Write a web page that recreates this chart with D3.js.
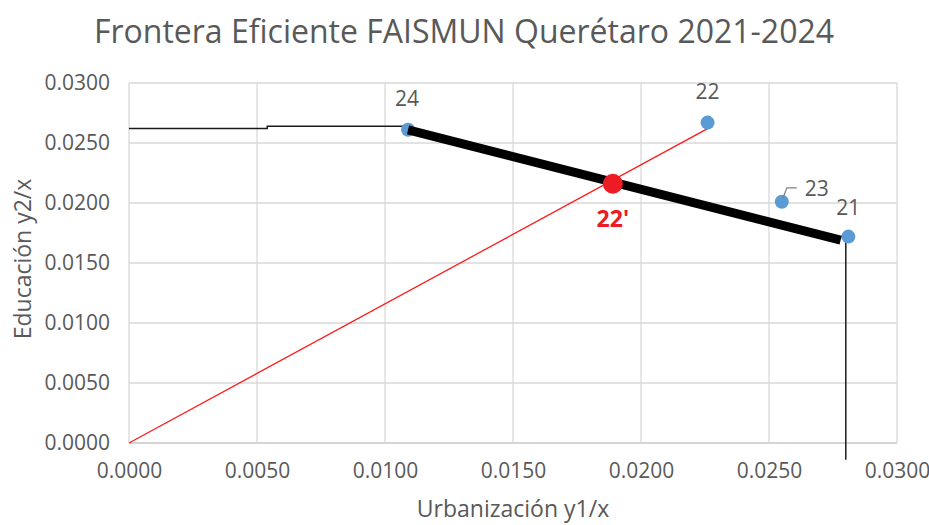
<!DOCTYPE html>
<html>
<head>
<meta charset="utf-8">
<script src="https://cdn.jsdelivr.net/npm/d3@7"></script>
<style>
  body { margin: 0; background: #fff; }
  text { font-family: "Open Sans", "Noto Sans", sans-serif; fill: #595959; }
</style>
</head>
<body>
<div id="chart"></div>
<script>
// puntos (años) del FAISMUN
var anios = ["21", "22", "23", "24"];
var urbanizacion = [0.0281, 0.0226, 0.0255, 0.0109];
var educacion = [0.0172, 0.0267, 0.0201, 0.0261];

// punto proyectado sobre la frontera
var proyLabel = "22'";
var proyX = [0.0189];
var proyY = [0.0216];

// frontera eficiente (24 -> 21)
var fronteraX = [0.0109, 0.0278];
var fronteraY = [0.0261, 0.0169];

// rayo desde el origen hacia 22
var rayoX = [0, 0.0226];
var rayoY = [0, 0.0262];

// líneas delgadas de cierre
var horizX = [0, 0.0054, 0.0054, 0.0108];
var horizY = [0.0262, 0.0262, 0.0264, 0.0264];
var vertX = [0.0280, 0.0280];
var vertY = [0.0168, -0.0014];

var ticks = [0, 0.005, 0.01, 0.015, 0.02, 0.025, 0.03];

var W = 929, H = 525;
var margin = {top: 83, right: 32, bottom: 82, left: 129},
    width = W - margin.left - margin.right,
    height = H - margin.top - margin.bottom;

var svg = d3.select("#chart").append("svg")
    .attr("width", W).attr("height", H);

var g = svg.append("g")
    .attr("transform", "translate(" + margin.left + "," + margin.top + ")");

var x = d3.scaleLinear().domain([0, 0.03]).range([0, width]);
var y = d3.scaleLinear().domain([0, 0.03]).range([height, 0]);
var fmt = d3.format(".4f");

// grid
g.append("g").selectAll("line").data(ticks).enter().append("line")
    .attr("x1", function(d) { return x(d); }).attr("x2", function(d) { return x(d); })
    .attr("y1", 0).attr("y2", height)
    .attr("stroke", "#d9d9d9").attr("stroke-width", 1.3);
g.append("g").selectAll("line").data(ticks).enter().append("line")
    .attr("y1", function(d) { return y(d); }).attr("y2", function(d) { return y(d); })
    .attr("x1", 0).attr("x2", width)
    .attr("stroke", "#d9d9d9").attr("stroke-width", 1.3);

// axes (labels only)
var xAxis = g.append("g")
    .attr("transform", "translate(0," + height + ")")
    .call(d3.axisBottom(x).tickValues(ticks).tickFormat(fmt).tickSize(0).tickPadding(20));
var yAxis = g.append("g")
    .call(d3.axisLeft(y).tickValues(ticks).tickFormat(fmt).tickSize(0).tickPadding(19));
[xAxis, yAxis].forEach(function(a) {
    a.select(".domain").remove();
    a.selectAll("text").attr("font-size", 21).attr("fill", "#595959")
        .style("font-family", "'Open Sans', sans-serif");
});
g.append("line").attr("x1", 0).attr("x2", width).attr("y1", height).attr("y2", height)
    .attr("stroke", "#d0d0d0").attr("stroke-width", 1.3);

var line = d3.line().x(function(d) { return x(d[0]); }).y(function(d) { return y(d[1]); });
function pares(xs, ys) { return xs.map(function(v, i) { return [v, ys[i]]; }); }

// thin black lines
g.append("path").datum(pares(horizX, horizY)).attr("d", line)
    .attr("fill", "none").attr("stroke", "#1a1a1a").attr("stroke-width", 1.5);
g.append("path").datum(pares(vertX, vertY)).attr("d", line)
    .attr("fill", "none").attr("stroke", "#1a1a1a").attr("stroke-width", 1.5);

// red ray
g.append("path").datum(pares(rayoX, rayoY)).attr("d", line)
    .attr("fill", "none").attr("stroke", "#ff1a1a").attr("stroke-width", 1.3);

// points
g.append("g").selectAll("circle").data(anios).enter().append("circle")
    .attr("cx", function(d, i) { return x(urbanizacion[i]); })
    .attr("cy", function(d, i) { return y(educacion[i]); })
    .attr("r", 7).attr("fill", "#5b9bd5");

// frontier
g.append("path").datum(pares(fronteraX, fronteraY)).attr("d", line)
    .attr("fill", "none").attr("stroke", "#000").attr("stroke-width", 9);

// projected point
g.append("circle").attr("cx", x(proyX[0])).attr("cy", y(proyY[0]))
    .attr("r", 10).attr("fill", "#ed1c24");

// point labels
var offsets = {"21": [0, -30], "22": [0, -32], "23": [35, -14], "24": [-1, -32]};
g.append("g").selectAll("text").data(anios).enter().append("text")
    .attr("x", function(d, i) { return x(urbanizacion[i]) + offsets[d][0]; })
    .attr("y", function(d, i) { return y(educacion[i]) + offsets[d][1]; })
    .attr("text-anchor", "middle").attr("dominant-baseline", "central")
    .attr("font-size", 21)
    .text(function(d) { return d; });

// leader line for 23
var i23 = anios.indexOf("23");
var lx = x(urbanizacion[i23]), ly = y(educacion[i23]);
g.append("path")
    .attr("d", "M" + (lx + 1) + "," + (ly - 3) + "L" + (lx + 5) + "," + (ly - 14) + "L" + (lx + 15) + "," + (ly - 14))
    .attr("fill", "none").attr("stroke", "#7f7f7f").attr("stroke-width", 1.2);

g.append("text").attr("x", x(proyX[0])).attr("y", y(proyY[0]) + 34)
    .attr("text-anchor", "middle").attr("dominant-baseline", "central")
    .attr("font-size", 23).attr("font-weight", "bold")
    .style("fill", "#ed1c24")
    .text(proyLabel);

// titles
svg.append("text").attr("x", 464).attr("y", 30)
    .attr("text-anchor", "middle").attr("dominant-baseline", "central")
    .attr("font-size", 32)
    .text("Frontera Eficiente FAISMUN Querétaro 2021-2024");

svg.append("text").attr("x", margin.left + width / 2).attr("y", 508)
    .attr("text-anchor", "middle").attr("dominant-baseline", "central")
    .attr("font-size", 23)
    .text("Urbanización y1/x");

svg.append("text")
    .attr("transform", "translate(22," + (margin.top + height / 2 - 4) + ") rotate(-90)")
    .attr("text-anchor", "middle").attr("dominant-baseline", "central")
    .attr("font-size", 23)
    .text("Educación y2/x");
</script>
</body>
</html>
